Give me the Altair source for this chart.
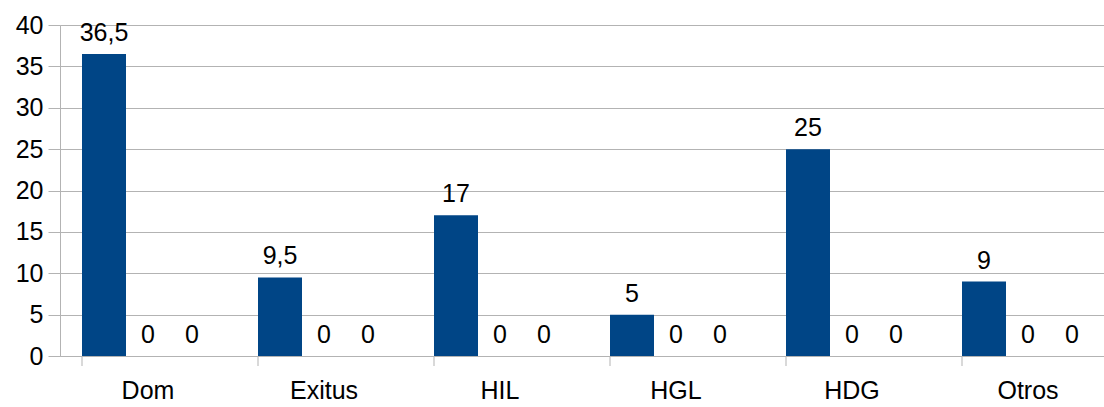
import altair as alt
import pandas as pd

categories = ["Dom", "Exitus", "HIL", "HGL", "HDG", "Otros"]
serie1 = [36.5, 9.5, 17, 5, 25, 9]
serie2 = [0, 0, 0, 0, 0, 0]
serie3 = [0, 0, 0, 0, 0, 0]
series_names = ["Serie 1", "Serie 2", "Serie 3"]
y_ticks = [0, 5, 10, 15, 20, 25, 30, 35, 40]

rows = []
for i, c in enumerate(categories):
    for s, vals in zip(series_names, [serie1, serie2, serie3]):
        rows.append({"cat": c, "series": s, "value": vals[i]})
df = pd.DataFrame(rows)
sep = pd.DataFrame({"cat": categories})

FONT = "Liberation Sans"
GRAY = "#b3b3b3"
FS = 25

xscale = alt.Scale(domain=categories, range=[0, 1056], paddingInner=0.25, paddingOuter=0.125)
xoff = alt.XOffset("series:N", sort=series_names, scale=alt.Scale(paddingInner=0, paddingOuter=0))
yscale = alt.Scale(domain=[0, 40], nice=False)

base = alt.Chart(df)

bars = base.mark_bar(clip=False).encode(
    x=alt.X("cat:N", scale=xscale, sort=categories, title=None,
            axis=alt.Axis(labelAngle=0, ticks=False, labelPadding=22, labelFontSize=FS,
                          labelFont=FONT, labelColor="#000000", domainColor=GRAY, grid=False)),
    xOffset=xoff,
    y=alt.Y("value:Q", scale=yscale, title=None,
            axis=alt.Axis(values=y_ticks, tickSize=12, tickColor=GRAY, labelPadding=5,
                          labelFontSize=FS, labelFont=FONT, labelColor="#000000",
                          domainColor=GRAY, gridColor=GRAY, gridWidth=1)),
    color=alt.Color("series:N", sort=series_names,
                    scale=alt.Scale(domain=series_names, range=["#004586", "#ff420e", "#ffd320"]),
                    legend=None),
)

labels = base.transform_calculate(
    label="replace(toString(datum.value), '.', ',')"
).mark_text(align="center", baseline="alphabetic", dy=-13, fontSize=FS, font=FONT,
            color="#000000").encode(
    x=alt.X("cat:N", scale=xscale, sort=categories),
    xOffset=xoff,
    y=alt.Y("value:Q", scale=yscale),
    text="label:N",
)

seps = alt.Chart(sep).mark_rule(color=GRAY, strokeWidth=1).encode(
    x=alt.X("cat:N", scale=xscale, sort=categories, bandPosition=0),
    y=alt.value(331),
    y2=alt.value(341),
)

chart = alt.layer(bars, labels, seps).properties(
    width=1044, height=331,
    autosize=alt.AutoSizeParams(type="none"),
    padding={"left": 60, "top": 25, "right": 0, "bottom": 51},
).configure_view(stroke=None).configure(background="white")

chart.save("out.html", embed_options={"renderer": "svg", "actions": False})
